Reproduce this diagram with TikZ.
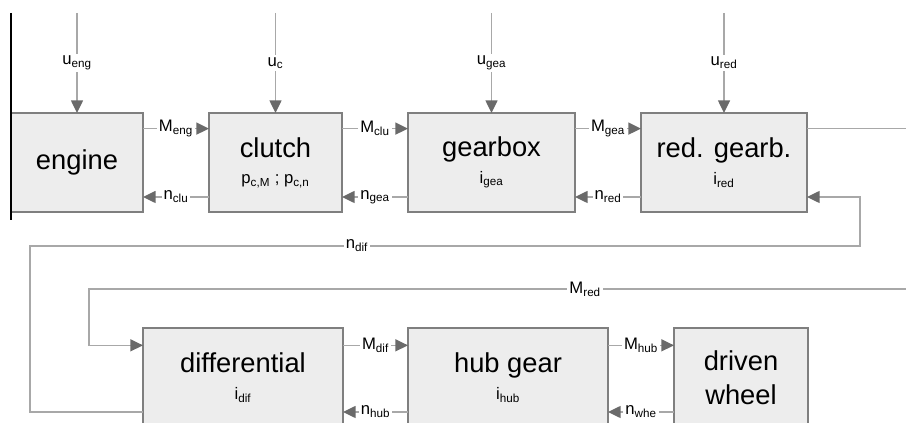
\documentclass[tikz,border=0pt]{standalone}
\usepackage{fontspec}
\setmainfont{Liberation Sans}
\usetikzlibrary{arrows.meta,positioning}
\definecolor{boxfill}{HTML}{EDEDED}
\definecolor{boxline}{HTML}{7F7F7F}
\definecolor{wiregray}{HTML}{A8A8A8}
\definecolor{tipgray}{HTML}{6A6A6A}
\tikzstyle{block}=[rectangle,draw=boxline,fill=boxfill,line width=1.2pt,outer sep=0pt,
minimum height=74.25pt,inner sep=2pt,align=center,font=\fontsize{20.5}{24}\selectfont]
\tikzstyle{flow}=[draw=wiregray,line width=1.1pt,-{Triangle[length=9.5pt,width=9pt,color=tipgray]}]
\tikzstyle{lbl}=[fill=white,inner sep=1.5pt,font=\fontsize{12.5}{14}\selectfont]
\newcommand{\param}[1]{\\[-4pt]{\fontsize{12.5}{14}\selectfont #1}}

\begin{document}
\begin{tikzpicture}[x=0.75pt,y=-0.75pt,node distance=49.5pt]
    \useasboundingbox (0,0) rectangle (906,423);
    \clip (0,0) rectangle (906,423);

    % upper chain
    \node[block,minimum width=99pt] (eng) at (77,162.5) {engine};
    \node[block,minimum width=99.75pt,right=of eng] (clu) {clutch\param{p\textsubscript{c,M} ; p\textsubscript{c,n}}};
    \node[block,minimum width=125.25pt,right=of clu] (gea) {gearbox\param{i\textsubscript{gea}}};
    \node[block,minimum width=124.5pt,right=of gea] (red) {red. gearb.\param{i\textsubscript{red}}};

    % lower chain
    \node[block,minimum width=150pt] (dif) at (243,377.5) {differential\param{i\textsubscript{dif}}};
    \node[block,minimum width=150pt,right=48.75pt of dif] (hub) {hub gear\param{i\textsubscript{hub}}};
    \node[block,minimum width=100.5pt,right=of hub] (whe) {driven\\[1.5pt]wheel};

    \draw[black,line width=0.9pt] ([yshift=75pt]eng.north west) -- ([yshift=-6pt]eng.south west);

    % control inputs
    \draw[flow] ([yshift=75pt]eng.north) -- node[lbl]{u\textsubscript{eng}} (eng.north);
    \draw[flow] ([yshift=75pt]clu.north) -- node[lbl]{u\textsubscript{c}} (clu.north);
    \draw[flow] ([yshift=75pt]gea.north) -- node[lbl]{u\textsubscript{gea}} (gea.north);
    \draw[flow] ([yshift=75pt]red.north) -- node[lbl]{u\textsubscript{red}} (red.north);

    % torque forward, speed back
    \draw[flow] ([yshift=-11.7pt]eng.north east) -- node[lbl]{M\textsubscript{eng}} ([yshift=-11.7pt]clu.north west);
    \draw[flow] ([yshift=-63pt]clu.north west) -- node[lbl]{n\textsubscript{clu}} ([yshift=-63pt]eng.north east);
    \draw[flow] ([yshift=-11.7pt]clu.north east) -- node[lbl]{M\textsubscript{clu}} ([yshift=-11.7pt]gea.north west);
    \draw[flow] ([yshift=-63pt]gea.north west) -- node[lbl]{n\textsubscript{gea}} ([yshift=-63pt]clu.north east);
    \draw[flow] ([yshift=-11.7pt]gea.north east) -- node[lbl]{M\textsubscript{gea}} ([yshift=-11.7pt]red.north west);
    \draw[flow] ([yshift=-63pt]red.north west) -- node[lbl]{n\textsubscript{red}} ([yshift=-63pt]gea.north east);

    \draw[flow] ([yshift=-13pt]dif.north east) -- node[lbl]{M\textsubscript{dif}} ([yshift=-13pt]hub.north west);
    \draw[flow] ([yshift=-63pt]hub.north west) -- node[lbl]{n\textsubscript{hub}} ([yshift=-63pt]dif.north east);
    \draw[flow] ([yshift=-13pt]hub.north east) -- node[lbl]{M\textsubscript{hub}} ([yshift=-13pt]whe.north west);
    \draw[flow] ([yshift=-63pt]whe.north west) -- node[lbl]{n\textsubscript{whe}} ([yshift=-63pt]hub.north east);

    % loops between the two chains
    \coordinate (mr) at (930,289);
    \coordinate (ml) at (89,289);
    \draw[flow] ([yshift=-11.7pt]red.north east) -| (mr) -- node[lbl,pos=0.41]{M\textsubscript{red}} (ml) |- ([yshift=-13pt]dif.north west);

    \coordinate (nl) at (30,246);
    \coordinate (nr) at (860,246);
    \draw[flow] ([yshift=-63pt]dif.north west) -| (nl) -- node[lbl,pos=0.394]{n\textsubscript{dif}} (nr) |- ([yshift=-63pt]red.north east);
\end{tikzpicture}
\end{document}
